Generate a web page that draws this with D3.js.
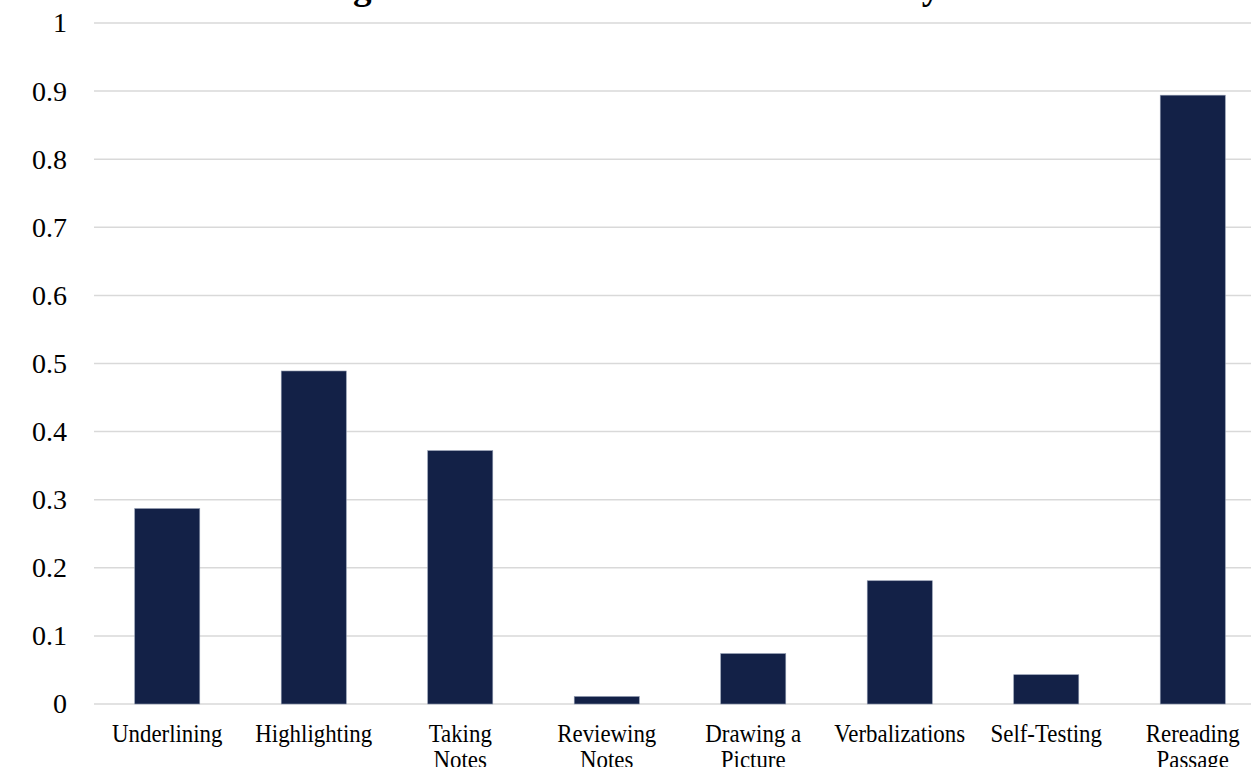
<!DOCTYPE html>
<html>
<head>
<meta charset="utf-8">
<script src="https://cdn.jsdelivr.net/npm/d3@7"></script>
<style>
  body { margin: 0; background: #fff; }
  svg { display: block; font-family: "Liberation Serif", "Times New Roman", serif; }
</style>
</head>
<body>
<div id="chart"></div>
<script>
'use strict';

var width = 1251;
var height = 767;

// data
var categories = ['Underlining', 'Highlighting', 'Taking Notes', 'Reviewing Notes',
  'Drawing a Picture', 'Verbalizations', 'Self-Testing', 'Rereading Passage'];
var shares = [0.287, 0.489, 0.372, 0.011, 0.074, 0.181, 0.043, 0.894];
var yTicks = [0, 0.1, 0.2, 0.3, 0.4, 0.5, 0.6, 0.7, 0.8, 0.9, 1];
var title = 'Percentage of Students Who Used Each Study Tool';

var data = categories.map(function(c, i){ return {name: c, value: shares[i]}; });

var svg = d3.select('#chart').append('svg')
  .attr('width', width)
  .attr('height', height);

// plot area runs a little past the right edge, like the reference
var x = d3.scaleBand()
  .domain(categories)
  .range([94, 1266])
  .paddingInner(0.556)
  .paddingOuter(0.278);

var y = d3.scaleLinear()
  .domain([0, 1])
  .range([704, 23]);

//gridlines
svg.append('g')
  .selectAll('line')
  .data(yTicks)
  .enter().append('line')
  .attr('x1', 94)
  .attr('x2', 1266)
  .attr('y1', function(d){ return y(d); })
  .attr('y2', function(d){ return y(d); })
  .attr('stroke', '#d9d9d9')
  .attr('stroke-width', 1.5);

//y axis labels, no domain line
var yAxis = svg.append('g')
  .attr('transform', 'translate(94,0)')
  .call(d3.axisLeft(y).tickValues(yTicks).tickSize(0).tickPadding(27)
    .tickFormat(function(d){ return d3.format('')(+d.toFixed(1)); }));
yAxis.select('.domain').remove();
yAxis.selectAll('text')
  .attr('font-family', '"Liberation Serif", "Times New Roman", serif')
  .attr('font-size', 28)
  .attr('fill', '#000');

//bars
svg.append('g')
  .selectAll('rect')
  .data(data)
  .enter().append('rect')
  .attr('x', function(d){ return x(d.name); })
  .attr('y', function(d){ return y(d.value); })
  .attr('width', x.bandwidth())
  .attr('height', function(d){ return y(0) - y(d.value); })
  .attr('fill', '#132147')
  .attr('stroke', '#8d97ad')
  .attr('stroke-width', 0.6);

//category labels, wrapped like excel does
var labels = svg.append('g')
  .selectAll('text')
  .data(categories)
  .enter().append('text')
  .attr('text-anchor', 'middle')
  .attr('font-size', 26)
  .attr('fill', '#000')
  .attr('transform', function(d){
    return 'translate(' + (x(d) + x.bandwidth()/2) + ',742) scale(0.88,1)';
  });

labels.each(function(d){
  var text = d3.select(this);
  var words = d.split(' ');
  var lines = [];
  var line = [];
  var probe = text.append('tspan');
  words.forEach(function(w){
    var tryLine = line.concat([w]).join(' ');
    probe.text(tryLine);
    if (line.length && probe.node().getComputedTextLength() * 0.88 > 122) {
      lines.push(line.join(' '));
      line = [w];
    } else {
      line.push(w);
    }
  });
  lines.push(line.join(' '));
  probe.remove();
  lines.forEach(function(l, i){
    text.append('tspan')
      .attr('x', 0)
      .attr('y', i * 26)
      .text(l);
  });
});

//title sits mostly above the top edge, only the descenders show
var t = svg.append('text')
  .attr('font-size', 32)
  .attr('font-weight', 'bold')
  .attr('fill', '#000')
  .attr('y', -1)
  .text(title);
var gIdx = title.indexOf('g');
var yIdx = title.lastIndexOf('y');
var gPos = t.node().getSubStringLength(0, gIdx);
var yPos = t.node().getSubStringLength(0, yIdx);
var k = (922 - 353) / (yPos - gPos);
t.attr('font-size', 32 * k);
gPos = t.node().getSubStringLength(0, gIdx);
t.attr('x', 353 - gPos);
</script>
</body>
</html>
